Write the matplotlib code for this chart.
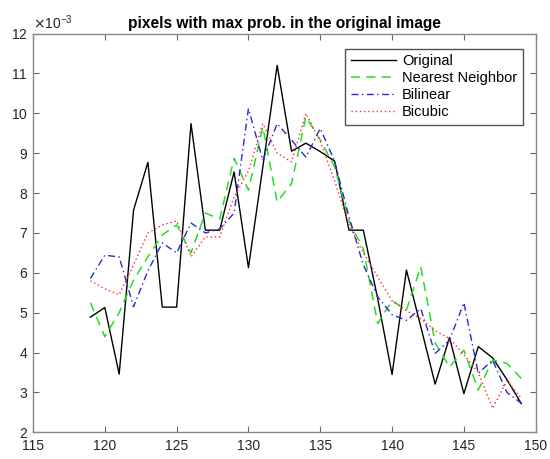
import matplotlib.pyplot as plt
import numpy as np

plt.rcParams['font.family'] = ['Liberation Sans', 'DejaVu Sans']

x = np.arange(119, 150)

# values in units of 1e-3
original = [4.89, 5.13, 3.46, 7.57, 8.77, 5.14, 5.14, 9.74, 7.07, 7.07,
            8.53, 6.13, 8.65, 11.2, 9.05, 9.25, 9.04, 8.8, 7.07, 7.07,
            5.35, 3.45, 6.07, 4.65, 3.21, 4.38, 2.97, 4.15, 3.87, 3.32, 2.72]
nearest = [5.25, 4.4, 5.0, 5.82, 6.4, 6.95, 7.2, 6.5, 7.5, 7.35,
           8.87, 8.07, 9.66, 7.78, 8.24, 9.91, 9.33, 8.66, 7.3, 6.6,
           4.73, 5.3, 5.07, 6.15, 4.24, 3.64, 4.06, 3.06, 3.81, 3.73, 3.35]
bilinear = [5.86, 6.44, 6.4, 5.15, 6.05, 6.75, 6.5, 7.25, 7.0, 7.1,
            7.5, 10.12, 8.82, 9.74, 9.33, 8.9, 9.62, 8.8, 7.4, 6.2,
            5.4, 4.95, 4.81, 5.1, 3.98, 4.31, 5.25, 3.48, 3.81, 3.0, 2.73]
bicubic = [5.8, 5.6, 5.45, 6.2, 7.0, 7.2, 7.3, 6.4, 6.9, 6.9,
           7.9, 8.55, 9.74, 9.0, 8.78, 10.0, 9.3, 8.3, 7.2, 6.5,
           5.9, 5.3, 5.05, 4.85, 4.55, 4.35, 3.95, 3.5, 2.6, 3.3, 2.85]

fig = plt.figure(figsize=(5.5, 4.59), dpi=100)
ax = fig.add_axes([0.06, 0.058, 0.914, 0.869])

scale = 1e-3
ax.plot(x, np.array(original) * scale, '-', color='black', lw=1.0, label='Original')
ax.plot(x, np.array(nearest) * scale, '--', color='#22e022', lw=1.1,
        dashes=(6, 4), label='Nearest Neighbor')
ax.plot(x, np.array(bilinear) * scale, '-.', color='#2a2ad0', lw=1.0,
        dashes=(5, 2.5, 1, 2.5), label='Bilinear')
ax.plot(x, np.array(bicubic) * scale, ':', color='#ff2a2a', lw=1.0,
        dashes=(1, 2), label='Bicubic')

ax.set_xlim(115, 150)
ax.set_ylim(2e-3, 12e-3)
ax.set_xticks(np.arange(115, 151, 5))
ax.set_yticks(np.arange(2, 13) * scale)
ax.ticklabel_format(axis='y', style='sci', scilimits=(-3, -3), useMathText=True)

for s in ax.spines.values():
    s.set_color('#888888')
    s.set_linewidth(1.0)
ax.tick_params(direction='in', top=True, right=True, length=4, width=0.8,
               color='#666666', labelsize=10, labelcolor='#262626')
ax.tick_params(axis='x', pad=5)
ax.yaxis.get_offset_text().set_fontsize(10)
ax.yaxis.get_offset_text().set_color('#262626')

ax.set_title('pixels with max prob. in the original image', fontsize=11.2,
             fontweight='bold', pad=4)

leg = ax.legend(loc='upper right', bbox_to_anchor=(0.975, 0.962), fontsize=10.5,
                frameon=True, fancybox=False, handlelength=3.1, labelspacing=0.2,
                borderpad=0.4, handletextpad=0.4, borderaxespad=0)
leg.get_frame().set_edgecolor('#262626')
leg.get_frame().set_linewidth(1.0)

fig.savefig('out.png', dpi=100)
